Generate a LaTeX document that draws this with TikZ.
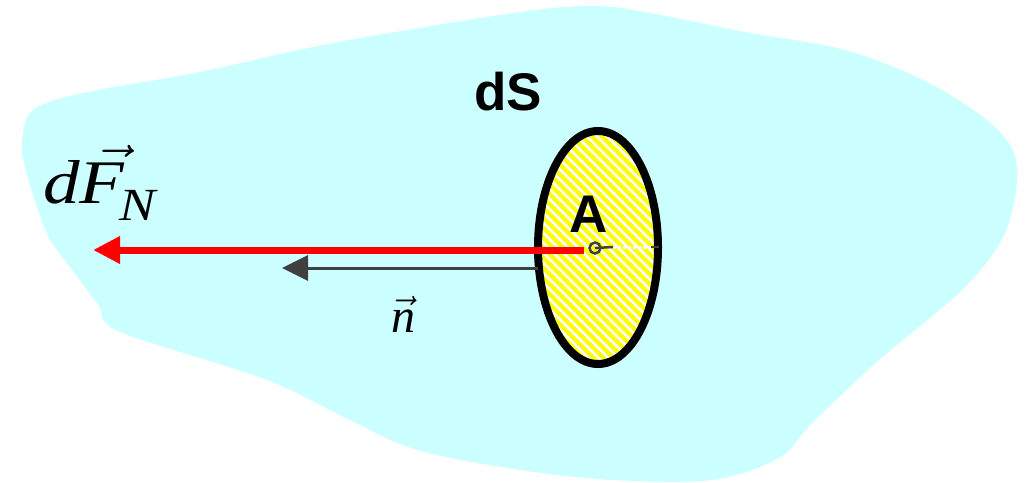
\RequirePackage{fix-cm}
\documentclass[tikz,border=0pt]{standalone}
\usepackage{fontspec}
\setmainfont{Liberation Serif}
\setsansfont{Liberation Sans}
\usetikzlibrary{arrows.meta,shapes.geometric}
\definecolor{blobcyan}{RGB}{204,255,255}
\definecolor{hatchyellow}{RGB}{255,255,0}
\definecolor{vecgray}{RGB}{64,64,64}
\definecolor{forcered}{RGB}{255,0,0}
\begin{document}
\begin{tikzpicture}[x=1pt,y=-1pt,
  lbl/.style={inner sep=0pt, anchor=base west},
  boldlbl/.style={lbl, font=\sffamily\bfseries\fontsize{53}{53}\selectfont},
  forcearrow/.style={draw=forcered, line width=7pt, -{Triangle[length=27pt,width=26pt]}},
  normarrow/.style={draw=vecgray, line width=3pt, -{Triangle[length=26pt,width=25pt]}},
  outline/.style={draw=black, line width=8pt}]
\useasboundingbox (0,0) rectangle (1032,482);
% body
\fill[blobcyan] plot[smooth cycle, tension=0.55] coordinates {
 (520,12) (595,6) (645,12) (745,32) (845,50) (929,83) (995,127) (1017,167)
 (1005,233) (962,290) (879,360) (812,423) (779,458) (712,480) (612,480)
 (520,470) (417,450) (350,420) (267,380) (133,337) (105,322) (100,308)
 (90,294) (70,267) (50,240) (37,207) (25,167) (22,140) (33,110) (83,93)
 (200,72) (333,43)};
% surface element
\coordinate (C) at (598,247.5);
\begin{scope}
  \clip (C) ellipse [x radius=60, y radius=116.5];
  \fill[hatchyellow] (530,120) rectangle (670,380);
  \foreach \k in {-30,...,30}
    \draw[white, line width=2.8pt] ({598+\k*10-160},{247.5-160}) -- ++(320,320);
\end{scope}
\node[outline, ellipse, minimum width=120pt, minimum height=233pt, inner sep=0pt] (dS) at (C) {};
% point A
\coordinate (A) at (595,248);
\coordinate (Atail) at (613,247);
\coordinate (dashend) at (651,247);
\coordinate (rim) at (659,247);
\draw[white, line width=3pt, dash pattern=on 3pt off 2pt] (Atail) -- (dashend);
\draw[vecgray, line width=2.5pt] (dashend) -- (rim);
% normal vector
\coordinate (nstart) at (538,268);
\coordinate (ntip) at (282,268);
\draw[normarrow] (nstart) -- (ntip);
% force
\coordinate (Fstart) at (584,250);
\coordinate (Ftip) at (93,250);
\draw[forcearrow] (Fstart) -- (Ftip);
\draw[vecgray, line width=2.5pt] (A) circle (5.5pt);
\draw[vecgray, line width=2.5pt] (A) -- (Atail);
% labels
\node[boldlbl] (dSlbl) at (474,110) {dS};
\node[boldlbl] (Albl) at (569,232) {A};
\node[lbl, font=\fontsize{62}{62}\selectfont] (Flbl) at (43,203)
  {\scalebox{1.18}[1]{\textit{d}$\vec{\mbox{\textit{F}\kern18pt}}$\kern-18pt\kern-5pt\raisebox{-17pt}{\fontsize{46}{46}\selectfont\textit{N}}}};
\node[lbl, font=\fontsize{48}{48}\selectfont] (nlbl) at (391,332) {$\vec{\mbox{\textit{n}}}$};
\end{tikzpicture}
\end{document}
